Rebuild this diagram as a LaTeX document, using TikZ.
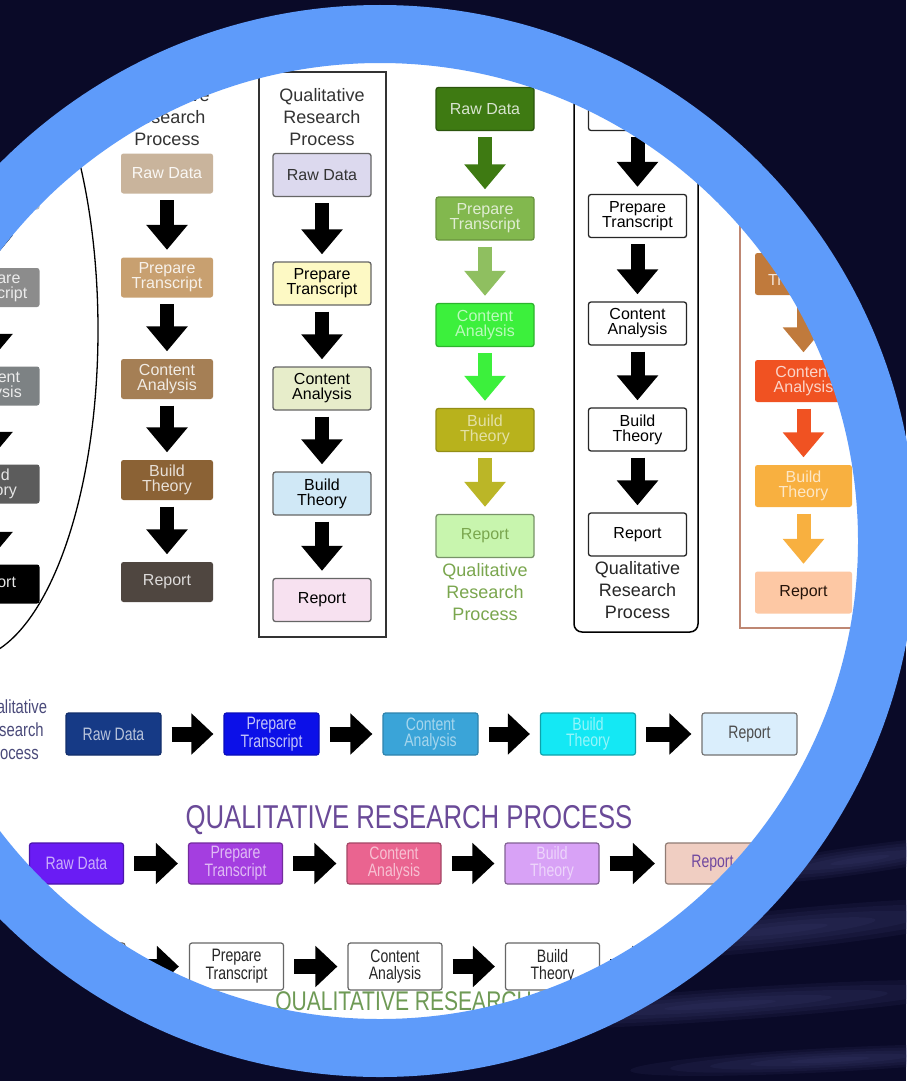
\documentclass[tikz,border=0pt]{standalone}
\usepackage{fontspec}
\setmainfont{Liberation Sans}
\newfontfamily\narrowfont[FakeStretch=0.78]{Liberation Sans}
\usetikzlibrary{arrows.meta}

\definecolor{bgnavy}{RGB}{10,10,40}
\definecolor{ringblue}{RGB}{94,155,250}
\definecolor{streak}{RGB}{80,82,140}
% column colours
\definecolor{grayA}{RGB}{140,140,140}
\definecolor{grayB}{RGB}{125,130,132}
\definecolor{grayC}{RGB}{92,92,92}
\definecolor{tanA}{RGB}{201,180,156}
\definecolor{tanB}{RGB}{200,160,112}
\definecolor{tanC}{RGB}{165,127,85}
\definecolor{tanD}{RGB}{139,98,53}
\definecolor{tanE}{RGB}{79,70,64}
\definecolor{pastA}{RGB}{220,217,238}
\definecolor{pastB}{RGB}{253,249,196}
\definecolor{pastC}{RGB}{231,237,202}
\definecolor{pastD}{RGB}{208,232,246}
\definecolor{pastE}{RGB}{247,225,240}
\definecolor{greenA}{RGB}{62,122,18}
\definecolor{greenB}{RGB}{130,184,78}
\definecolor{greenC}{RGB}{60,240,60}
\definecolor{greenD}{RGB}{184,178,28}
\definecolor{greenE}{RGB}{200,245,174}
\definecolor{greenT}{RGB}{122,166,78}
\definecolor{orA}{RGB}{150,80,40}
\definecolor{orB}{RGB}{192,122,60}
\definecolor{orC}{RGB}{240,82,34}
\definecolor{orD}{RGB}{248,176,64}
\definecolor{orE}{RGB}{253,200,164}
\definecolor{orFrame}{RGB}{190,135,115}
% row colours
\definecolor{blueA}{RGB}{22,58,134}
\definecolor{blueB}{RGB}{12,16,232}
\definecolor{blueC}{RGB}{58,164,216}
\definecolor{blueD}{RGB}{20,232,244}
\definecolor{blueE}{RGB}{218,238,252}
\definecolor{blueT}{RGB}{74,74,122}
\definecolor{purA}{RGB}{106,28,244}
\definecolor{purB}{RGB}{164,62,224}
\definecolor{purC}{RGB}{234,100,144}
\definecolor{purD}{RGB}{216,162,246}
\definecolor{purE}{RGB}{240,206,194}
\definecolor{purT}{RGB}{106,74,152}
\definecolor{sageT}{RGB}{110,154,85}

\tikzset{
  colbox/.style={rounded corners=2.5pt, minimum width=#1, minimum height=43pt,
    inner sep=0pt, align=center, font=\fontsize{16}{15}\selectfont, line width=1.3pt},
  colbox/.default=98pt,
  rowbox/.style={rounded corners=2.5pt, minimum width=95pt, minimum height=42pt,
    inner sep=0pt, align=center, font=\narrowfont\fontsize{18}{16.5}\selectfont, line width=1.2pt},
  coltitle/.style={align=center, font=\fontsize{18}{22}\selectfont},
  downarrow/.style={line width=14pt, -{Triangle[width=40pt,length=25pt]},
    shorten <=6pt, shorten >=7pt},
  rightarrow/.style={line width=15pt, -{Triangle[width=40pt,length=22pt]},
    shorten <=10pt, shorten >=10pt},
}

\begin{document}
\begin{tikzpicture}[x=1pt,y=-1pt]

    \useasboundingbox (0,0) rectangle (906,1081);
    \fill[bgnavy] (0,0) rectangle (906,1081);

    % faint streaks, lower right
    \foreach \cx/\cy/\rx/\ry/\ang in {780/930/240/20/6, 720/1005/280/16/4,
                                      830/1060/200/12/3, 860/860/150/14/8}
      \foreach \k in {1,...,5}
        \fill[streak, opacity=0.1, rotate around={\ang:(\cx,\cy)}]
          (\cx,\cy) ellipse [x radius={\rx*\k/5}, y radius={\ry*\k/5}];

    \begin{scope}
    \clip (380,541) circle[radius=479pt];
    \fill[white] (0,0) rectangle (906,1081);

    % column 1 (grey, in an oval)
    \draw[line width=1.3pt] (-35,330) ellipse [x radius=133pt, y radius=330pt];
    \node[colbox=95pt, fill=gray!50, text=white] (c1raw) at (-8,188) {Raw Data};
    \node[colbox=95pt, minimum height=39pt, fill=grayA, text=white!85!gray] (c1prep) at (-8,287.5) {Prepare\\Transcript};
    \node[colbox=95pt, minimum height=39pt, fill=grayB, text=white!85!gray] (c1cont) at (-8,386) {Content\\Analysis};
    \node[colbox=95pt, minimum height=39pt, fill=grayC, text=white!80!gray] (c1build) at (-8,484) {Build\\Theory};
    \node[colbox=95pt, minimum height=39pt, fill=black, text=white!80!gray] (c1rep) at (-8,584) {Report};
    \foreach \a/\b in {c1raw/c1prep, c1prep/c1cont, c1cont/c1build, c1build/c1rep}
      \draw[downarrow] (\a) -- (\b);

    % column 2 (browns)
    \node[coltitle, text=black!80] (c2title) at (167,117) {Qualitative\\Research\\Process};
    \node[colbox=92pt, minimum height=40pt, fill=tanA, text=white!90!tanA] (c2raw) at (167,173.5) {Raw Data};
    \node[colbox=92pt, minimum height=40pt, fill=tanB, text=white!85!tanB] (c2prep) at (167,277.5) {Prepare\\Transcript};
    \node[colbox=92pt, minimum height=40pt, fill=tanC, text=white!85!tanC] (c2cont) at (167,379) {Content\\Analysis};
    \node[colbox=92pt, minimum height=40pt, fill=tanD, text=white!80!tanD] (c2build) at (167,480) {Build\\Theory};
    \node[colbox=92pt, minimum height=40pt, fill=tanE, text=white!80!tanE] (c2rep) at (167,582) {Report};
    \foreach \a/\b in {c2raw/c2prep, c2prep/c2cont, c2cont/c2build, c2build/c2rep}
      \draw[downarrow] (\a) -- (\b);

    % column 3 (pastels in a frame)
    \draw[line width=1.5pt, black!80] (259,72) rectangle (386,637);
    \node[coltitle, text=black!80] (c3title) at (322,117) {Qualitative\\Research\\Process};
    \node[colbox, draw=black!60, fill=pastA, text=black!80] (c3raw) at (322,175) {Raw Data};
    \node[colbox, draw=black!60, fill=pastB, text=black] (c3prep) at (322,283.5) {Prepare\\Transcript};
    \node[colbox, draw=black!60, fill=pastC, text=black] (c3cont) at (322,388.5) {Content\\Analysis};
    \node[colbox, draw=black!60, fill=pastD, text=black] (c3build) at (322,493.5) {Build\\Theory};
    \node[colbox, draw=black!60, fill=pastE, text=black] (c3rep) at (322,600) {Report};
    \foreach \a/\b in {c3raw/c3prep, c3prep/c3cont, c3cont/c3build, c3build/c3rep}
      \draw[downarrow] (\a) -- (\b);

    % column 4 (greens)
    \node[colbox, draw=greenA!70!black, fill=greenA, text=white!80!greenA] (c4raw) at (485,109) {Raw Data};
    \node[colbox, draw=greenB!80!black, fill=greenB, text=white!75!greenB] (c4prep) at (485,218.5) {Prepare\\Transcript};
    \node[colbox, draw=greenC!75!black, fill=greenC, text=white!65!greenC] (c4cont) at (485,325) {Content\\Analysis};
    \node[colbox, draw=greenD!80!black, fill=greenD, text=white!60!greenD] (c4build) at (485,430) {Build\\Theory};
    \node[colbox, draw=greenE!60!black, fill=greenE, text=greenT] (c4rep) at (485,536) {Report};
    \node[coltitle, text=greenT, anchor=north] (c4title) at (485,560) {Qualitative\\Research\\Process};
    \foreach \a/\b/\c in {c4raw/c4prep/greenA, c4prep/c4cont/greenB!90!white,
                          c4cont/c4build/greenC, c4build/c4rep/greenD!95!white}
      \draw[downarrow, \c] (\a) -- (\b);

    % column 5 (outlined, rounded frame)
    \draw[line width=1.5pt, rounded corners=8pt] (574,60) rectangle (698,632);
    \node[colbox, draw=black!85, fill=white] (c5raw) at (637.5,109) {Raw Data};
    \node[colbox, draw=black!85, fill=white] (c5prep) at (637.5,216) {Prepare\\Transcript};
    \node[colbox, draw=black!85, fill=white] (c5cont) at (637.5,323.5) {Content\\Analysis};
    \node[colbox, draw=black!85, fill=white] (c5build) at (637.5,429.5) {Build\\Theory};
    \node[colbox, draw=black!85, fill=white] (c5rep) at (637.5,534.5) {Report};
    \node[coltitle, text=black!85, anchor=north] (c5title) at (637.5,558) {Qualitative\\Research\\Process};
    \foreach \a/\b in {c5raw/c5prep, c5prep/c5cont, c5cont/c5build, c5build/c5rep}
      \draw[downarrow] (\a) -- (\b);

    % column 6 (oranges in a frame)
    \draw[line width=2pt, orFrame] (740,140) rectangle (890,628);
    \node[colbox=97pt, minimum height=42pt, fill=orA, text=white!80!orA] (c6raw) at (803.5,168) {Raw Data};
    \node[colbox=97pt, minimum height=42pt, fill=orB, text=white!80!orB] (c6prep) at (803.5,274) {Prepare\\Transcript};
    \node[colbox=97pt, minimum height=42pt, fill=orC, text=white!75!orC] (c6cont) at (803.5,381) {Content\\Analysis};
    \node[colbox=97pt, minimum height=42pt, fill=orD, text=white!70!orD] (c6build) at (803.5,486) {Build\\Theory};
    \node[colbox=97pt, minimum height=42pt, fill=orE, text=black!75!orA] (c6rep) at (803.5,592.5) {Report};
    \foreach \a/\b/\c in {c6raw/c6prep/orA, c6prep/c6cont/orB, c6cont/c6build/orC, c6build/c6rep/orD}
      \draw[downarrow, \c] (\a) -- (\b);

    % row 7 (blues)
    \node[align=center, font=\narrowfont\fontsize{19}{23}\selectfont, text=blueT] (r7title) at (12,730) {Qualitative\\Research\\Process};
    \node[rowbox, draw=blueA!80!black, fill=blueA, text=white!70!blueA] (r7raw) at (113.5,734) {Raw Data};
    \node[rowbox, draw=blueB!80!black, fill=blueB, text=white!75!blueB] (r7prep) at (271.5,734) {Prepare\\Transcript};
    \node[rowbox, draw=blueC!80!black, fill=blueC, text=white!55!blueC] (r7cont) at (430.5,734) {Content\\Analysis};
    \node[rowbox, draw=blueD!70!black, fill=blueD, text=white!55!blueD] (r7build) at (588,734) {Build\\Theory};
    \node[rowbox, draw=black!55, fill=blueE, text=black!70] (r7rep) at (749.5,734) {Report};
    \foreach \a/\b in {r7raw/r7prep, r7prep/r7cont, r7cont/r7build, r7build/r7rep}
      \draw[rightarrow] (\a) -- (\b);

    % row 8 (purples)
    \node[font=\narrowfont\fontsize{33}{33}\selectfont, text=purT] (r8title) at (409,820) {QUALITATIVE RESEARCH PROCESS};
    \node[rowbox, minimum width=94pt, minimum height=41pt, draw=purA!70!black, fill=purA, text=white!65!purA] (r8raw) at (76.5,863.5) {Raw Data};
    \node[rowbox, minimum width=94pt, minimum height=41pt, draw=purB!70!black, fill=purB, text=white!65!purB] (r8prep) at (235.5,863.5) {Prepare\\Transcript};
    \node[rowbox, minimum width=94pt, minimum height=41pt, draw=purC!70!black, fill=purC, text=white!60!purC] (r8cont) at (394,863.5) {Content\\Analysis};
    \node[rowbox, minimum width=94pt, minimum height=41pt, draw=purD!60!black, fill=purD, text=white!55!purD] (r8build) at (552,863.5) {Build\\Theory};
    \node[rowbox, minimum width=94pt, minimum height=41pt, draw=purE!60!black, fill=purE, text=purT!90!purB] (r8rep) at (712.5,863.5) {Report};
    \foreach \a/\b in {r8raw/r8prep, r8prep/r8cont, r8cont/r8build, r8build/r8rep}
      \draw[rightarrow] (\a) -- (\b);

    % row 9 (outlined)
    \node[rowbox, minimum width=94pt, minimum height=47pt, draw=black!60, fill=white, text=black!85] (r9raw) at (78,966.5) {Raw Data};
    \node[rowbox, minimum width=94pt, minimum height=47pt, draw=black!60, fill=white, text=black!85] (r9prep) at (236.5,966.5) {Prepare\\Transcript};
    \node[rowbox, minimum width=94pt, minimum height=47pt, draw=black!60, fill=white, text=black!85] (r9cont) at (395,966.5) {Content\\Analysis};
    \node[rowbox, minimum width=94pt, minimum height=47pt, draw=black!60, fill=white, text=black!85] (r9build) at (552.5,966.5) {Build\\Theory};
    \node[rowbox, minimum width=94pt, minimum height=47pt, draw=black!60, fill=white, text=black!85] (r9rep) at (712,966.5) {Report};
    \foreach \a/\b in {r9raw/r9prep, r9prep/r9cont, r9cont/r9build, r9build/r9rep}
      \draw[rightarrow] (\a) -- (\b);
    \node[font=\narrowfont\fontsize{27}{27}\selectfont, text=sageT] (r9title) at (458,1004) {QUALITATIVE RESEARCH PROCESS};

    \end{scope}

    % blue ring
    \draw[ringblue, line width=58pt] (380,541) circle[radius=507pt];

  \end{tikzpicture}
\end{document}
